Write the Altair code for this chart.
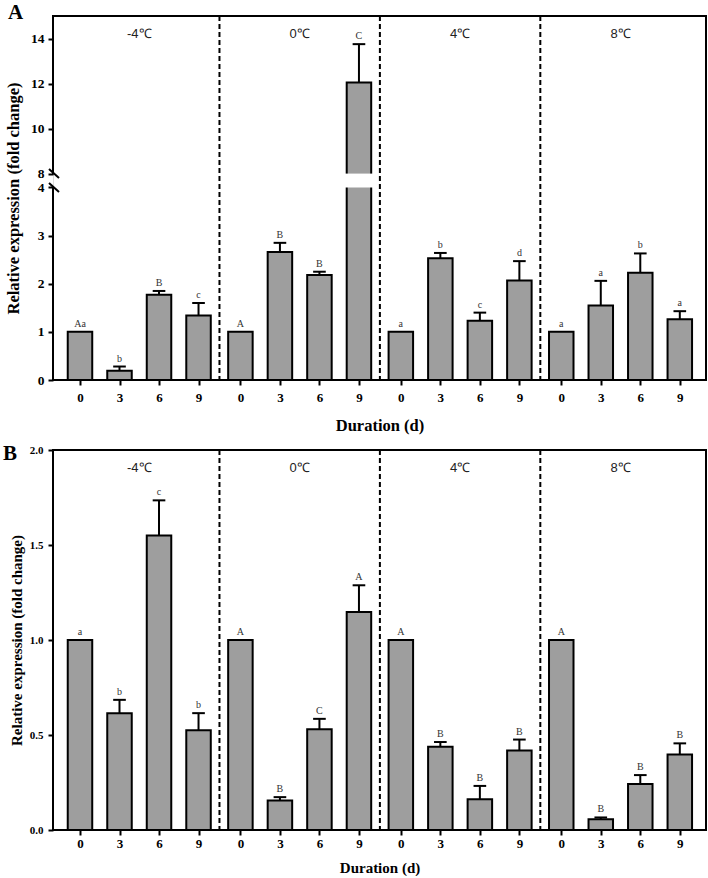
import altair as alt
import pandas as pd

# ---------------- data ----------------
groups = ["-4℃", "0℃", "4℃", "8℃"]
days = [0, 3, 6, 9]

a_mean = [1.00, 0.19, 1.77, 1.34, 1.00, 2.66, 2.18, 12.05, 1.00, 2.53, 1.23, 2.07, 1.00, 1.55, 2.23, 1.26]
a_err = [0.00, 0.09, 0.08, 0.26, 0.00, 0.19, 0.07, 1.70, 0.00, 0.11, 0.17, 0.40, 0.00, 0.51, 0.40, 0.17]
a_sig = ["Aa", "b", "B", "c", "A", "B", "B", "C", "a", "b", "c", "d", "a", "a", "b", "a"]

b_mean = [1.00, 0.615, 1.55, 0.525, 1.00, 0.155, 0.53, 1.148, 1.00, 0.438, 0.162, 0.418, 1.00, 0.057, 0.242, 0.398]
b_err = [0.00, 0.07, 0.185, 0.09, 0.00, 0.018, 0.055, 0.14, 0.00, 0.025, 0.07, 0.058, 0.00, 0.009, 0.047, 0.058]
b_sig = ["a", "b", "c", "b", "A", "B", "C", "A", "A", "B", "B", "B", "A", "B", "B", "B"]

a_yticks = [0, 1, 2, 3, 4, 8, 10, 12, 14]
b_yticks = [0, 0.5, 1.0, 1.5, 2.0]

# ---------------- layout constants ----------------
PITCH = 4.06          # group pitch, in bar steps
HB = 0.31             # half bar width
HC = 0.16             # half error-cap width
XDOM = [-0.683, 15.843]
LO, HI, GAP, K, A_TOP = 4.0, 8.0, 0.289, 0.4678, 15.0   # broken axis of panel A
A_DTOP = LO + GAP + (A_TOP - HI) * K
B_TOP = 2.0
W = 653
SERIF = "'Liberation Serif', 'Times New Roman', serif"
SANS = "'Liberation Sans', Arial, sans-serif"
GRAY = "#9e9e9e"


def disp_a(f):
    return f"(({f}) <= {LO}) ? ({f}) : ({LO + GAP} + (({f}) - {HI}) * {K})"


def disp_a_py(v):
    return v if v <= LO else LO + GAP + (v - HI) * K


def disp_b(f):
    return f"({f})"


def make_df(mean, err, sig):
    return pd.DataFrame({
        "gi": [i // 4 for i in range(len(mean))],
        "bi": [i % 4 for i in range(len(mean))],
        "group": [groups[i // 4] for i in range(len(mean))],
        "day": [days[i % 4] for i in range(len(mean))],
        "mean": mean, "err": err, "sig": sig,
    })


xticks = [g * PITCH + b for g in range(len(groups)) for b in range(len(days))]


def panel(mean, err, sig, broken, height, letter, letter_x, letter_y,
          ylabel_size, ylab_pad, ytitle_pad, xlab_pad, xtitle_pad, title_size):
    df = make_df(mean, err, sig)
    disp = disp_a if broken else disp_b
    top = A_DTOP if broken else B_TOP
    if broken:
        yvals = [disp_a_py(v) for v in a_yticks]
        ylabel_expr = (f"datum.value <= {LO + 0.01} ? format(datum.value, 'd') : "
                       f"format(round({HI} + (datum.value - {LO + GAP}) / {K}), 'd')")
    else:
        yvals = b_yticks
        ylabel_expr = "format(datum.value, '.1f')"

    xscale = alt.Scale(domain=XDOM, nice=False, zero=False)
    yscale = alt.Scale(domain=[0, top], nice=False, zero=False)
    xaxis = alt.Axis(values=xticks, labelExpr="(round(datum.value) % 4) * 3",
                     title="Duration (d)", grid=False, domain=False,
                     tickSize=5, tickWidth=2, tickColor="black",
                     labelFont=SERIF, labelFontWeight="bold", labelFontSize=13,
                     labelColor="black", labelPadding=xlab_pad, labelFlush=False,
                     labelOverlap=False, titleFont=SERIF, titleFontWeight="bold",
                     titleFontSize=title_size, titleColor="black", titlePadding=xtitle_pad)
    yaxis = alt.Axis(values=yvals, labelExpr=ylabel_expr,
                     title="Relative expression (fold change)", grid=False, domain=False,
                     tickSize=5, tickWidth=2, tickColor="black",
                     labelFont=SERIF, labelFontWeight="bold", labelFontSize=ylabel_size,
                     labelColor="black", labelPadding=ylab_pad, labelFlush=False,
                     labelOverlap=False, titleFont=SERIF, titleFontWeight="bold",
                     titleFontSize=title_size, titleColor="black", titlePadding=ytitle_pad)

    def X(f):
        return alt.X(f"{f}:Q", scale=xscale, axis=xaxis)

    def Y(f):
        return alt.Y(f"{f}:Q", scale=yscale, axis=yaxis)

    def XD(v):
        return alt.XDatum(v, scale=xscale, axis=xaxis)

    def YD(v):
        return alt.YDatum(v, scale=yscale, axis=yaxis)

    base = alt.Chart(df).transform_calculate(
        pos=f"datum.gi * {PITCH} + datum.bi",
    ).transform_calculate(
        x0=f"datum.pos - {HB}", x1=f"datum.pos + {HB}",
        g0=f"datum.pos - {HB + 0.06}", g1=f"datum.pos + {HB + 0.06}",
        c0=f"datum.pos - {HC}", c1=f"datum.pos + {HC}",
        zero="0",
        ytop=disp("datum.mean"),
        yerr=disp("datum.mean + datum.err"),
        gap0=disp(str(LO)), gap1=disp(str(HI)),
    )

    layers = []
    # dashed separators between temperature groups
    gdf = pd.DataFrame({"gi": list(range(len(groups))), "label": groups})
    sep = alt.Chart(gdf).transform_filter("datum.gi > 0").transform_calculate(
        sx=f"datum.gi * {PITCH} - {(PITCH - 3) / 2}"
    ).mark_rule(color="black", strokeWidth=2, strokeDash=[5, 3]).encode(x=X("sx"))
    layers.append(sep)

    bars = base.mark_bar(color=GRAY, stroke="black", strokeWidth=2).encode(
        x=X("x0"), x2="x1:Q", y=Y("zero"), y2="ytop:Q")
    layers.append(bars)

    if broken:
        gapcut = base.transform_filter(f"datum.mean > {HI}").mark_bar(
            color="white", stroke=None).encode(
            x=X("g0"), x2="g1:Q", y=Y("gap0"), y2="gap1:Q")
        layers.append(gapcut)

    errl = base.transform_filter("datum.err > 0").mark_rule(
        color="black", strokeWidth=2).encode(x=X("pos"), y=Y("ytop"), y2="yerr:Q")
    errc = base.transform_filter("datum.err > 0").mark_rule(
        color="black", strokeWidth=2).encode(x=X("c0"), x2="c1:Q", y=Y("yerr"))
    sigt = base.mark_text(font=SERIF, fontSize=10, baseline="alphabetic", dy=-5,
                          color="#333333").encode(x=X("pos"), y=Y("yerr"), text="sig:N")
    layers += [errl, errc, sigt]

    temp = alt.Chart(gdf).transform_calculate(
        tx=f"datum.gi * {PITCH} + 1.5"
    ).mark_text(font=SANS, fontSize=13, baseline="middle", color="#222222").encode(
        x=X("tx"), y=alt.value(18), text="label:N")
    layers.append(temp)

    one = pd.DataFrame({"t": [letter]})
    # frame: top, right, bottom
    layers.append(alt.Chart(one).mark_rule(color="black", strokeWidth=2, strokeCap="square")
                  .encode(y=YD(top)))
    layers.append(alt.Chart(one).mark_rule(color="black", strokeWidth=2, strokeCap="square")
                  .encode(y=YD(0)))
    layers.append(alt.Chart(one).mark_rule(color="black", strokeWidth=2, strokeCap="square")
                  .encode(x=XD(XDOM[1])))
    # left frame (broken in panel A)
    if broken:
        segs = [(0, LO), (LO + GAP, top)]
    else:
        segs = [(0, top)]
    for s0, s1 in segs:
        layers.append(alt.Chart(one).mark_rule(color="black", strokeWidth=2, strokeCap="square")
                      .encode(x=XD(XDOM[0]), y=YD(s0), y2=alt.Y2Datum(s1)))
    if broken:
        for d in (LO, LO + GAP):
            layers.append(alt.Chart(one).mark_rule(color="black", strokeWidth=2).encode(
                x=alt.value(-4), x2=alt.value(6), y=YD(d + 0.094), y2=alt.Y2Datum(d - 0.094)))

    lett = alt.Chart(one).mark_text(font=SERIF, fontSize=21, fontWeight="bold",
                                    align="left", baseline="middle", color="black").encode(
        x=alt.value(letter_x), y=alt.value(letter_y), text="t:N")
    layers.append(lett)

    return alt.layer(*layers).properties(width=W, height=height)


pa = panel(a_mean, a_err, a_sig, True, 364, "A", -45, -3,
           ylabel_size=13.5, ylab_pad=4, ytitle_pad=9, xlab_pad=6, xtitle_pad=13,
           title_size=16.5)
pb = panel(b_mean, b_err, b_sig, False, 380, "B", -50, 4,
           ylabel_size=11, ylab_pad=5, ytitle_pad=5, xlab_pad=2, xtitle_pad=10,
           title_size=15)

chart = alt.vconcat(pa, pb, spacing=8).properties(
    padding={"left": 2, "top": 1, "right": 0, "bottom": 0}
).configure_view(stroke=None).configure(background="white")

chart.save("out.html", embed_options={"renderer": "svg", "actions": False})
